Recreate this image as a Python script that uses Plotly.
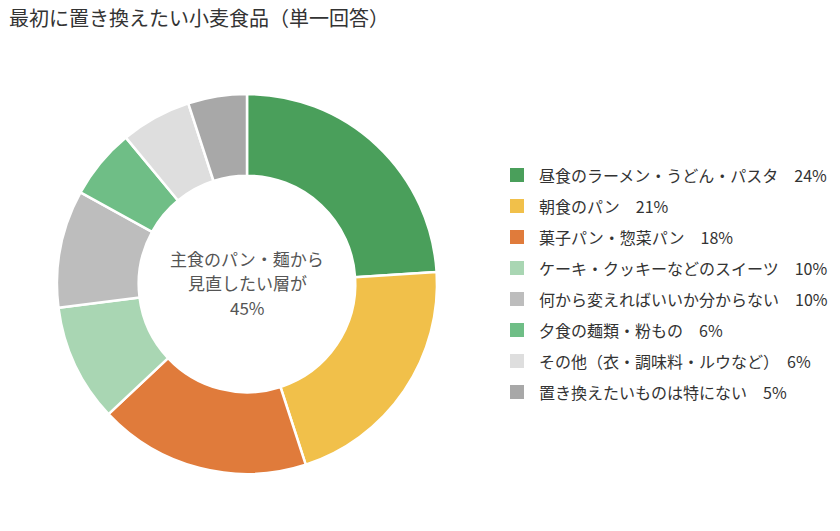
import plotly.graph_objects as go

labels = [
    "昼食のラーメン・うどん・パスタ",
    "朝食のパン",
    "菓子パン・惣菜パン",
    "ケーキ・クッキーなどのスイーツ",
    "何から変えればいいか分からない",
    "夕食の麺類・粉もの",
    "その他（衣・調味料・ルウなど）",
    "置き換えたいものは特にない",
]
values = [24, 21, 18, 10, 10, 6, 6, 5]
colors = ["#4a9f5b", "#f1c04a", "#e07b3b", "#a9d6b3", "#bdbdbd", "#6fbe86", "#dedede", "#a8a8a8"]

title = "最初に置き換えたい小麦食品（単一回答）"
center_lines = ["主食のパン・麺から", "見直したい層が", "45%"]

font = "Noto Sans CJK JP"
W, H = 840, 531
OFF = 8  # page body margin


def fx(px):
    return (px - OFF) / W


def fy(py):
    return 1 - (py - OFF) / H


fig = go.Figure()

fig.add_trace(go.Pie(
    labels=labels,
    values=values,
    hole=0.57,
    sort=False,
    direction="clockwise",
    marker=dict(colors=colors, line=dict(color="white", width=2.5)),
    textinfo="none",
    hoverinfo="label+percent",
    showlegend=False,
    domain=dict(x=[fx(57), fx(437)], y=[fy(474), fy(94)]),
))

# legend drawn as squares + text
leg_x = 517
leg_y0 = 175
leg_dy = 31
leg_y = [leg_y0 + leg_dy * i for i in range(len(labels))]

fig.add_trace(go.Scatter(
    x=[leg_x] * len(labels),
    y=leg_y,
    mode="markers",
    marker=dict(symbol="square", size=14, color=colors),
    hoverinfo="skip",
    showlegend=False,
))

for lab, v, y in zip(labels, values, leg_y):
    fig.add_annotation(
        x=537, y=y, xref="x", yref="y",
        text=f"{lab}　{v}%",
        showarrow=False, xanchor="left", yanchor="middle",
        font=dict(family=font, size=16, color="#333333"),
    )

# centre text, one annotation per line
for i, line in enumerate(center_lines):
    fig.add_annotation(
        x=247, y=258 + 24.5 * i, xref="x", yref="y",
        text=line,
        showarrow=False, xanchor="center", yanchor="middle",
        font=dict(family=font, size=17, color="#555555"),
    )

fig.update_layout(
    width=W, height=H,
    margin=dict(l=0, r=0, t=0, b=0),
    paper_bgcolor="white",
    plot_bgcolor="rgba(0,0,0,0)",
    title=dict(
        text=title, x=fx(9), xanchor="left", y=fy(19), yanchor="middle",
        font=dict(family=font, size=20, color="#333333"),
    ),
    xaxis=dict(range=[OFF, W + OFF], visible=False, fixedrange=True),
    yaxis=dict(range=[H + OFF, OFF], visible=False, fixedrange=True),
    font=dict(family=font),
)

fig.write_html("out.html")
